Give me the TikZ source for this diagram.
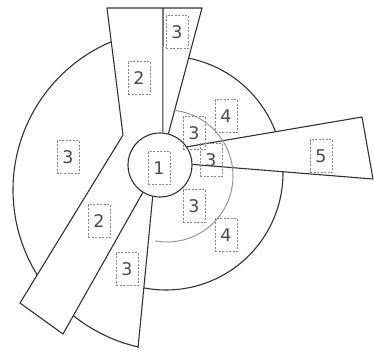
\documentclass[tikz,border=0pt]{standalone}
\usepackage{fontspec}
\setmainfont{DejaVu Sans}
\usepackage{tikz}
\usetikzlibrary{calc}
\definecolor{LineColor}{RGB}{50,50,50}
\definecolor{ArcGray}{RGB}{150,150,150}
\definecolor{BoxGray}{RGB}{135,135,135}
\definecolor{DigitColor}{RGB}{75,75,75}

\begin{document}
\begin{tikzpicture}[x=1bp, y=-1bp, line join=round,
    edge/.style={draw=LineColor, line width=1.1bp},
    numbox/.style={draw=BoxGray, line width=0.6bp, dash pattern=on 2bp off 1.5bp,
      minimum width=22bp, minimum height=33bp, inner sep=0pt, text=DigitColor,
      font=\fontsize{17.5}{17.5}\selectfont}]
  \useasboundingbox (0,0) rectangle (374,353);
  % hub
  \node[circle, edge, minimum size=64bp, inner sep=0pt] (hub) at (160,165) {};
  % blade corners
  \coordinate (tl) at (107,8);
  \coordinate (tr) at (202,8);
  \coordinate (vtop) at (163,8);
  \coordinate (kink) at (123,135);
  \coordinate (bl) at (20,303);
  \coordinate (br) at (63,334);
  \coordinate (bot) at (138,348);
  \coordinate (rt) at (362,117);
  \coordinate (rb) at (373,179);
  % blades
  \draw[edge] (hub.75) -- (tr) -- (tl) -- (kink) -- (bl) -- (br) -- (hub.-122);
  \draw[edge] (vtop) -- (hub.85);
  \draw[edge] (hub.-103) -- (bot);
  \draw[edge] (hub.34) -- (rt) -- (rb) -- (hub.1);
  % outer arcs
  \draw[edge] ($(174,190)+(247:161)$) arc[start angle=247, end angle=148.3, radius=161];
  \draw[edge] ($(174,190)+(128.7:161)$) arc[start angle=128.7, end angle=102.8, radius=161];
  \draw[edge] ($(166,173)+(-78.9:117)$) arc[start angle=-78.9, end angle=-20.5, radius=117];
  \draw[edge] ($(166,173)+(-0.6:117)$) arc[start angle=-0.6, end angle=100.8, radius=117];
  % inner arc
  \draw[draw=ArcGray, line width=1bp] ($(167,176)+(-83.5:66)$) arc[start angle=-83.5, end angle=100.5, radius=66];
  % zone numbers
  \node[numbox] (n1) at (159,168) {1};
  \node[numbox] (top3) at (177,32) {3};
  \node[numbox] (top2) at (139,78) {2};
  \node[numbox] (up4) at (226,116) {4};
  \node[numbox] (up3) at (194,133) {3};
  \node[numbox] (mid3) at (211,160) {3};
  \node[numbox] (r5) at (321,156) {5};
  \node[numbox] (low3) at (194,206) {3};
  \node[numbox] (low4) at (226,235) {4};
  \node[numbox] (left3) at (68,157) {3};
  \node[numbox] (left2) at (99,221) {2};
  \node[numbox] (bot3) at (127,269) {3};
\end{tikzpicture}
\end{document}
